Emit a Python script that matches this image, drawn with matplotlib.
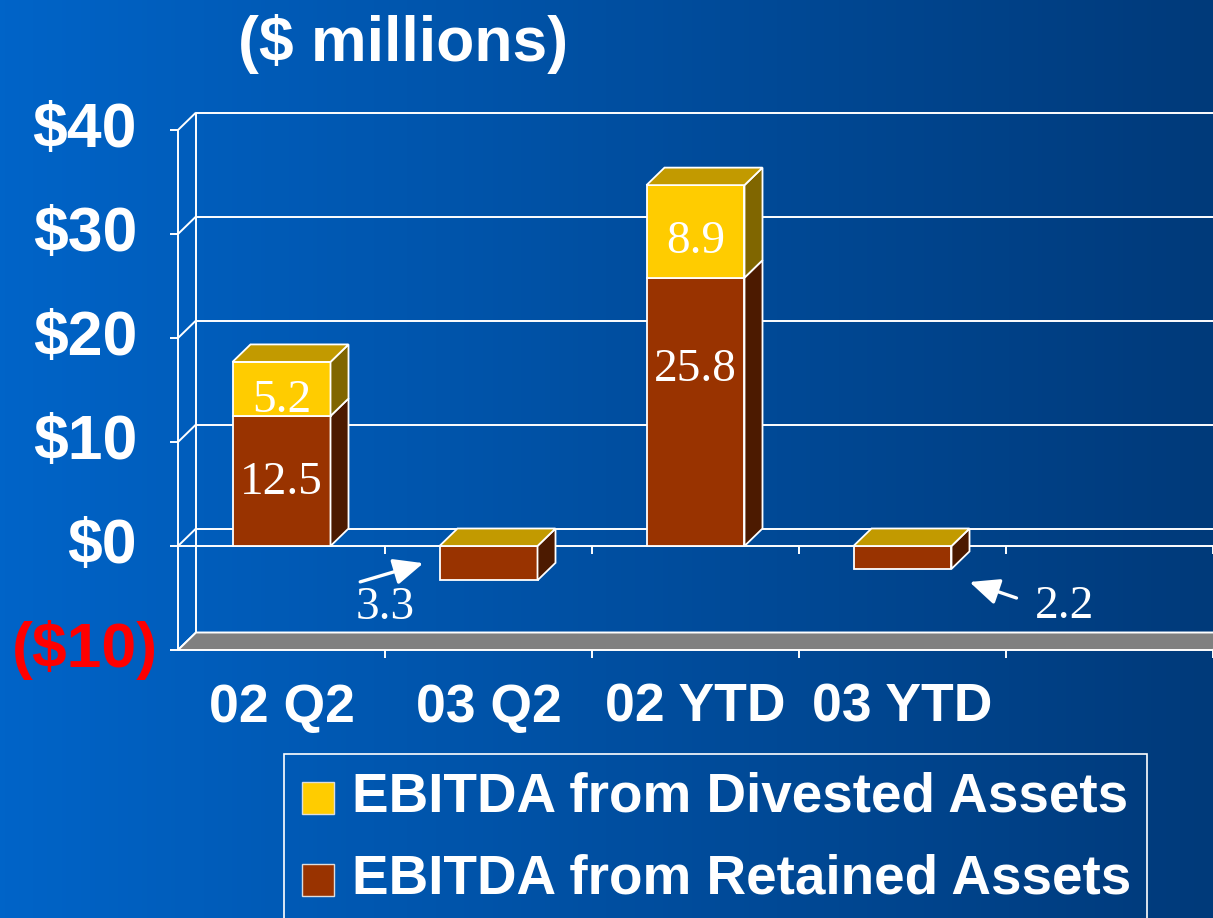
import matplotlib
matplotlib.use("Agg")
import matplotlib.pyplot as plt
import numpy as np
from matplotlib.patches import Polygon, Rectangle


categories = ["02 Q2", "03 Q2", "02 YTD", "03 YTD"]
retained = [12.5, -3.3, 25.8, -2.2]
divested = [5.2, 0.0, 8.9, 0.0]
series_names = ["EBITDA from Divested Assets", "EBITDA from Retained Assets"]
y_ticks = [-10, 0, 10, 20, 30, 40]
y_tick_labels = ["($10)", "$0", "$10", "$20", "$30", "$40"]
title = "($ millions)"

# where the in-bar numbers sit, as a fraction of their segment
retained_label_frac = [0.52, None, 0.67, None]
divested_label_frac = [0.35, None, 0.43, None]

YELLOW, YELLOW_SIDE, TOP = "#FFCC00", "#806600", "#C29A00"
BROWN, BROWN_SIDE = "#993300", "#4C1A00"
W, H = 1213, 918
N_SLOTS = 5
PX_X = 207.0   # pixels per category slot
PX_Y = 10.4    # pixels per $1M
DX, DY = 18 / PX_X, 17.5 / PX_Y
BAR_W = 98 / PX_X

fig = plt.figure(figsize=(W / 100, H / 100), dpi=100)

# blue slide background, lighter on the left
bg = fig.add_axes([0, 0, 1, 1])
t = np.linspace(0, 1, 256)[:, None]
left_c = np.array([0, 100, 200]) / 255
right_c = np.array([0, 58, 122]) / 255
grad = left_c * (1 - t) + right_c * t
bg.imshow(grad[None, :, :], aspect="auto", extent=[0, 1, 0, 1])
bg.axis("off")

ax = fig.add_axes([178 / W, (H - 650) / H, 1035 / W, 520 / H])
ax.set_xlim(0, N_SLOTS)
ax.set_ylim(y_ticks[0], y_ticks[-1])
ax.axis("off")
ax.patch.set_alpha(0)

line_kw = dict(color="white", lw=1.4, clip_on=False, solid_capstyle="butt", zorder=1)
ymin, ymax = y_ticks[0], y_ticks[-1]

# back wall and side wall gridlines
for v in y_ticks:
    ax.plot([DX, N_SLOTS + DX], [v + DY, v + DY], **line_kw)
    ax.plot([0, DX], [v, v + DY], **line_kw)
    ax.plot([-8 / PX_X, 0], [v, v], **line_kw)
ax.plot([DX, DX], [ymin + DY, ymax + DY], **line_kw)
ax.plot([0, 0], [ymin, ymax], **line_kw)

# grey floor
floor = Polygon([(0, ymin), (N_SLOTS, ymin), (N_SLOTS + DX, ymin + DY), (DX, ymin + DY)],
                closed=True, facecolor="#808080", edgecolor="white", lw=1.4,
                clip_on=False, zorder=1.5)
ax.add_patch(floor)

# front category axis at zero plus ticks
ax.plot([0, N_SLOTS], [0, 0], **line_kw)
tick_len = 8 / PX_Y
for b in range(1, N_SLOTS + 1):
    ax.plot([b, b], [0, -tick_len], **line_kw)
    ax.plot([b, b], [ymin, ymin - tick_len], **line_kw)


def box(x0, y0, y1, front, side, top=None):
    x1 = x0 + BAR_W
    kw = dict(closed=True, edgecolor="white", lw=1.3, clip_on=False, zorder=3)
    ax.add_patch(Polygon([(x0, y0), (x1, y0), (x1, y1), (x0, y1)], facecolor=front, **kw))
    ax.add_patch(Polygon([(x1, y0), (x1 + DX, y0 + DY), (x1 + DX, y1 + DY), (x1, y1)],
                         facecolor=side, **kw))
    if top is not None:
        ax.add_patch(Polygon([(x0, y1), (x0 + DX, y1 + DY), (x1 + DX, y1 + DY), (x1, y1)],
                             facecolor=top, **kw))


label_kw = dict(color="white", fontsize=34, family="Liberation Serif",
                ha="center", va="center", zorder=5)
shift = 4 / PX_Y

for i, (r, d) in enumerate(zip(retained, divested)):
    x0 = i + 0.5 - BAR_W / 2
    cx = i + 0.5
    if r >= 0:
        box(x0, 0, r, BROWN, BROWN_SIDE)
        box(x0, r, r + d, YELLOW, YELLOW_SIDE, TOP)
        ax.text(cx, r * retained_label_frac[i] - shift, f"{r:.1f}", **label_kw)
        if d:
            ax.text(cx, r + d * divested_label_frac[i] - shift, f"{d:.1f}", **label_kw)
    else:
        box(x0, r, 0, BROWN, BROWN_SIDE, TOP)

arrow_kw = dict(arrowstyle="-|>,head_length=0.45,head_width=0.2", color="white",
                lw=2.4, mutation_scale=40, shrinkA=0, shrinkB=0)
# 03 Q2: arrow from lower-left pointing at the bar's front
b1 = 1 + 0.5 - BAR_W / 2
ax.annotate("", xy=(b1 - 0.078, retained[1] / 2), xytext=(b1 - 0.383, retained[1] / 2 - 1.8),
            arrowprops=arrow_kw, annotation_clip=False, zorder=5)
ax.text(b1 - 0.26, retained[1] / 2 - 4.3, f"{abs(retained[1]):.1f}", **label_kw)
# 03 YTD: arrow from lower-right pointing at the bar's side
b3 = 3 + 0.5 + BAR_W / 2 + DX
ax.annotate("", xy=(b3, retained[3] - 1.26), xytext=(b3 + 0.227, retained[3] - 2.8),
            arrowprops=arrow_kw, annotation_clip=False, zorder=5)
ax.text(b3 + 0.46, retained[3] - 3.6, f"{abs(retained[3]):.1f}", **label_kw)

# y tick labels (accounting style: negatives in red parentheses)
ytrans = ax.get_yaxis_transform()
for v, lab in zip(y_ticks, y_tick_labels):
    neg = v < 0
    ax.text(-20 / 1035 if neg else -41 / 1035, v, lab, transform=ytrans,
            ha="right", va="center", fontsize=45, fontweight="bold",
            family="Liberation Sans", color="#FF0000" if neg else "white")

# category labels
xtrans = ax.get_xaxis_transform()
for i, cat in enumerate(categories):
    ax.text(i + 0.5, -58 / 520, cat, transform=xtrans, ha="center", va="center",
            fontsize=38.5, fontweight="bold", family="Liberation Sans", color="white")

fig.text(403 / W, 1 - 44 / H, title, ha="center", va="center", fontsize=45,
         fontweight="bold", family="Liberation Sans", color="white")

# legend box, running off the bottom of the slide
fig.patches.append(Rectangle((284 / W, -0.05), (1147 - 284) / W, 0.05 + (H - 754) / H,
                             transform=fig.transFigure, facecolor="none",
                             edgecolor="white", lw=1.2))
for name, color, yc in zip(series_names, [YELLOW, BROWN], [798, 880]):
    fig.patches.append(Rectangle((302 / W, 1 - (yc + 16) / H), 32 / W, 32 / H,
                                 transform=fig.transFigure, facecolor=color,
                                 edgecolor="#DDDDDD", lw=1))
    fig.text(352 / W, 1 - yc / H, name, ha="left", va="center", fontsize=39.5,
             fontweight="bold", family="Liberation Sans", color="white")

fig.savefig("out.png", dpi=100)
